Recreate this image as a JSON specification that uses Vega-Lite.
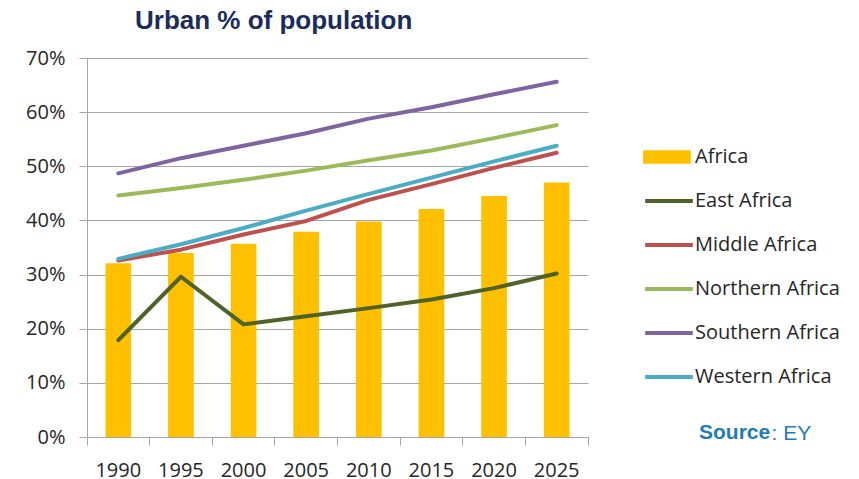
{
  "$schema": "https://vega.github.io/schema/vega-lite/v6.json",
  "width": 501,
  "height": 379,
  "autosize": {"type": "none"},
  "padding": {"left": 87, "top": 58, "right": 271, "bottom": 42},
  "background": "white",
  "title": {
    "text": "Urban % of population",
    "anchor": "start",
    "frame": "group",
    "dx": 48,
    "dy": -50,
    "offset": 26,
    "font": "Liberation Sans",
    "fontSize": 26,
    "fontWeight": "bold",
    "color": "#1B2B5B"
  },
  "config": {
    "view": {"stroke": null},
    "legend": {"padding": 0}
  },
  "datasets": {
    "urban": [
      {"year": "1990", "series": "Africa", "value": 32.1},
      {"year": "1995", "series": "Africa", "value": 34.0},
      {"year": "2000", "series": "Africa", "value": 35.7},
      {"year": "2005", "series": "Africa", "value": 37.9},
      {"year": "2010", "series": "Africa", "value": 39.8},
      {"year": "2015", "series": "Africa", "value": 42.1},
      {"year": "2020", "series": "Africa", "value": 44.5},
      {"year": "2025", "series": "Africa", "value": 47.0},
      {"year": "1990", "series": "East Africa", "value": 17.9},
      {"year": "1995", "series": "East Africa", "value": 29.6},
      {"year": "2000", "series": "East Africa", "value": 20.8},
      {"year": "2005", "series": "East Africa", "value": 22.3},
      {"year": "2010", "series": "East Africa", "value": 23.8},
      {"year": "2015", "series": "East Africa", "value": 25.4},
      {"year": "2020", "series": "East Africa", "value": 27.5},
      {"year": "2025", "series": "East Africa", "value": 30.2},
      {"year": "1990", "series": "Middle Africa", "value": 32.6},
      {"year": "1995", "series": "Middle Africa", "value": 34.6},
      {"year": "2000", "series": "Middle Africa", "value": 37.4},
      {"year": "2005", "series": "Middle Africa", "value": 39.9},
      {"year": "2010", "series": "Middle Africa", "value": 43.8},
      {"year": "2015", "series": "Middle Africa", "value": 46.7},
      {"year": "2020", "series": "Middle Africa", "value": 49.7},
      {"year": "2025", "series": "Middle Africa", "value": 52.5},
      {"year": "1990", "series": "Northern Africa", "value": 44.6},
      {"year": "1995", "series": "Northern Africa", "value": 46.0},
      {"year": "2000", "series": "Northern Africa", "value": 47.5},
      {"year": "2005", "series": "Northern Africa", "value": 49.2},
      {"year": "2010", "series": "Northern Africa", "value": 51.1},
      {"year": "2015", "series": "Northern Africa", "value": 52.9},
      {"year": "2020", "series": "Northern Africa", "value": 55.2},
      {"year": "2025", "series": "Northern Africa", "value": 57.6},
      {"year": "1990", "series": "Southern Africa", "value": 48.7},
      {"year": "1995", "series": "Southern Africa", "value": 51.5},
      {"year": "2000", "series": "Southern Africa", "value": 53.8},
      {"year": "2005", "series": "Southern Africa", "value": 56.1},
      {"year": "2010", "series": "Southern Africa", "value": 58.8},
      {"year": "2015", "series": "Southern Africa", "value": 60.9},
      {"year": "2020", "series": "Southern Africa", "value": 63.3},
      {"year": "2025", "series": "Southern Africa", "value": 65.6},
      {"year": "1990", "series": "Western Africa", "value": 32.9},
      {"year": "1995", "series": "Western Africa", "value": 35.6},
      {"year": "2000", "series": "Western Africa", "value": 38.6},
      {"year": "2005", "series": "Western Africa", "value": 41.8},
      {"year": "2010", "series": "Western Africa", "value": 44.9},
      {"year": "2015", "series": "Western Africa", "value": 47.9},
      {"year": "2020", "series": "Western Africa", "value": 50.9},
      {"year": "2025", "series": "Western Africa", "value": 53.8}
    ],
    "source": [{"src": "EY"}]
  },
  "encoding": {
    "x": {
      "field": "year",
      "type": "ordinal",
      "scale": {"paddingInner": 0, "paddingOuter": 0},
      "axis": {
        "title": ": EY",
        "titleX": 684,
        "titleY": 2,
        "titleAlign": "left",
        "titleBaseline": "alphabetic",
        "titleFont": "Liberation Sans",
        "titleFontSize": 21,
        "titleFontWeight": "normal",
        "titleColor": "#217DB5",
        "labelAngle": 0,
        "labelFont": "Open Sans",
        "labelFontSize": 20,
        "labelColor": "#262626",
        "labelPadding": 15,
        "bandPosition": 1,
        "tickExtra": true,
        "tickSize": 8,
        "tickColor": "#A6A6A6",
        "domainColor": "#A6A6A6",
        "grid": false
      }
    },
    "y": {
      "field": "value",
      "type": "quantitative",
      "scale": {"domain": [0, 70]},
      "axis": {
        "title": null,
        "values": [0, 10, 20, 30, 40, 50, 60, 70],
        "labelExpr": "datum.value + '%'",
        "labelFont": "Open Sans",
        "labelFontSize": 20,
        "labelColor": "#262626",
        "labelPadding": 14,
        "tickSize": 8,
        "tickColor": "#A6A6A6",
        "domainColor": "#A6A6A6",
        "gridColor": "#A6A6A6",
        "grid": true
      }
    }
  },
  "layer": [
    {
      "data": {"name": "urban"},
      "transform": [{"filter": "datum.series === 'Africa'"}],
      "mark": {"type": "bar", "width": {"band": 0.41}},
      "encoding": {
        "fill": {
          "field": "series",
          "type": "nominal",
          "scale": {"domain": ["Africa"], "range": ["#FFC000"]},
          "legend": {
            "title": null,
            "orient": "none",
            "legendX": 556,
            "legendY": 75,
            "symbolType": "M-1,-0.28H1V0.28H-1Z",
            "symbolSize": 2275,
            "symbolStrokeWidth": 0,
            "labelFont": "Open Sans",
            "labelFontSize": 20,
            "labelColor": "#262626",
            "labelOffset": 4
          }
        }
      }
    },
    {
      "data": {"name": "urban"},
      "transform": [{"filter": "datum.series !== 'Africa'"}],
      "mark": {"type": "line", "strokeWidth": 4, "strokeCap": "round", "strokeJoin": "round"},
      "encoding": {
        "stroke": {
          "field": "series",
          "type": "nominal",
          "scale": {
            "domain": ["East Africa", "Middle Africa", "Northern Africa", "Southern Africa", "Western Africa"],
            "range": ["#4F6228", "#C0504D", "#9BBB59", "#8064A2", "#4BACC6"]
          },
          "legend": {
            "title": null,
            "orient": "none",
            "legendX": 556,
            "legendY": 117,
            "symbolType": "stroke",
            "symbolSize": 2275,
            "symbolStrokeWidth": 4,
            "rowPadding": 8,
            "labelFont": "Open Sans",
            "labelFontSize": 20,
            "labelColor": "#262626",
            "labelOffset": 0
          }
        }
      }
    },
    {
      "data": {"name": "source"},
      "mark": {"type": "point", "opacity": 0},
      "encoding": {
        "shape": {
          "field": "src",
          "type": "nominal",
          "legend": {
            "title": "Source",
            "titleOrient": "left",
            "titleFont": "Liberation Sans",
            "titleFontSize": 21,
            "titleFontWeight": "bold",
            "titleColor": "#217DB5",
            "titlePadding": 0,
            "orient": "none",
            "legendX": 612,
            "legendY": 381,
            "symbolSize": 1,
            "symbolFillColor": "transparent",
            "symbolStrokeColor": "transparent",
            "labelOffset": 0,
            "labelOpacity": 0,
            "labelFont": "Liberation Sans",
            "labelFontSize": 20,
            "labelColor": "#217DB5"
          }
        }
      }
    }
  ]
}
